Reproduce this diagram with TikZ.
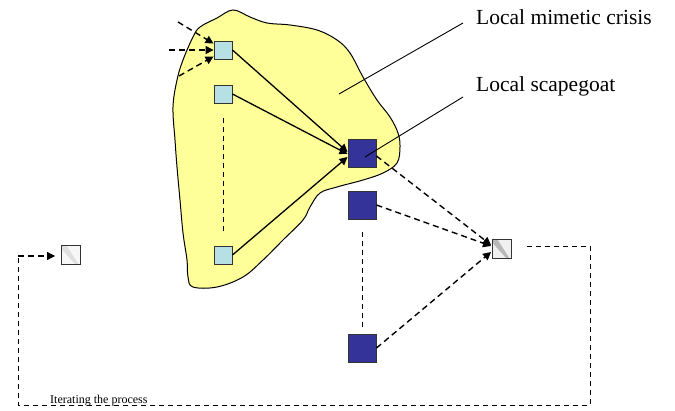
\documentclass[tikz,border=0pt]{standalone}
\usepackage{fontspec}
\setmainfont{Liberation Serif}
\usetikzlibrary{arrows.meta}
\definecolor{blobyellow}{HTML}{FFFF99}
\definecolor{lightsq}{HTML}{B7E0E4}
\definecolor{darksq}{HTML}{333399}
\definecolor{edgegray}{HTML}{333333}
\tikzset{
  lb/.style={draw=edgegray,line width=0.9pt,fill=lightsq,minimum size=18pt,inner sep=0pt},
  db/.style={draw=edgegray,line width=0.9pt,fill=darksq,minimum size=28pt,inner sep=0pt},
  hb/.style={draw=edgegray,line width=0.9pt,fill=gray!12,minimum size=19pt,inner sep=0pt},
  tip/.style={-{Triangle[length=8pt,width=8pt]}},
  solidarr/.style={tip,line width=1.3pt},
  dasharr/.style={tip,line width=1.4pt,dash pattern=on 6pt off 4pt},
  thindash/.style={line width=0.9pt,dash pattern=on 5pt off 4pt},
  lbl/.style={inner sep=0pt,anchor=base west,font=\fontsize{21.5}{24}\selectfont},
}
\begin{document}
\begin{tikzpicture}[x=1pt,y=-1pt]
\useasboundingbox (0,0) rectangle (675,410);
% blob
\draw[fill=blobyellow,line width=1pt] plot[smooth cycle,tension=0.6] coordinates {
(233,10) (250,17) (267,23) (290,25) (317,30) (337,40) (350,53) (363,77)
(377,100) (390,117) (398,133) (400,147) (397,163) (383,173) (363,180)
(337,187) (320,193) (310,207) (303,220) (283,240) (263,260) (243,277)
(217,287) (193,287) (188,277) (187,260) (183,233) (180,200) (177,167)
(175,140) (173,107) (177,80) (183,60) (193,37) (200,27) (217,18)};
% nodes
\node[lb] (a1) at (223,50) {};
\node[lb] (a2) at (223,94) {};
\node[lb] (a3) at (223,255) {};
\node[db] (sg) at (362,153) {};
\node[db] (b2) at (362,205) {};
\node[db] (b3) at (362,348) {};
\node[hb,path picture={\fill[gray!55] ([xshift=-3pt]path picture bounding box.north west) -- ([xshift=5pt]path picture bounding box.north west) -- ([yshift=-3pt]path picture bounding box.south east) -- ([xshift=-5pt]path picture bounding box.south east) -- cycle;}] (h) at (502,249) {};
\node[hb,fill=gray!6,path picture={\fill[gray!25] ([xshift=-3pt]path picture bounding box.north west) -- ([xshift=5pt]path picture bounding box.north west) -- ([yshift=-3pt]path picture bounding box.south east) -- ([xshift=-5pt]path picture bounding box.south east) -- cycle;}] (hl) at (71,255) {};
% incoming dashed arrows
\coordinate (i1) at (178,22);
\coordinate (i2) at (169,50);
\coordinate (i3) at (179,76);
\draw[dasharr] (i1) -- ([yshift=-3pt]a1.north west);
\draw[dasharr] (i2) -- (a1.west);
\draw[dasharr] (i3) -- ([yshift=3pt]a1.south west);
% solid arrows to scapegoat
\draw[solidarr] (a1.east) -- ([yshift=1pt]sg.west);
\draw[solidarr] (a2.east) -- ([yshift=-1pt]sg.west);
\draw[solidarr] (a3.east) -- ([yshift=-4pt]sg.west);
% vertical dashed
\draw[thindash] ([yshift=-15pt]a2.south) -- ([yshift=11pt]a3.north);
\draw[thindash] ([yshift=-13pt]b2.south) -- ([yshift=7pt]b3.north);
% dashed arrows to hatched
\draw[dasharr] ([yshift=-3pt]sg.east) -- ([yshift=4pt,xshift=-1pt]h.west);
\draw[dasharr] (b2.east) -- ([yshift=3pt,xshift=-1pt]h.west);
\draw[dasharr] (b3.east) -- ([yshift=-3pt,xshift=-1pt]h.west);
% loop
\coordinate (r1) at (590,246);
\coordinate (r2) at (590,405);
\coordinate (l1) at (18,405);
\coordinate (l2) at (18,256);
\draw[thindash] ([xshift=15pt,yshift=3pt]h.east) -- (r1) -- (r2) -- (l1) -- (l2);
\draw[dasharr,line width=1.1pt] (l2) -- ([xshift=-6pt,yshift=-1pt]hl.west);
\node[inner sep=0pt,anchor=base west,font=\fontsize{12}{14}\selectfont] (it) at (50,403) {Iterating the process};
% labels
\node[lbl] (lm) at (476,24) {Local mimetic crisis};
\node[lbl] (ls) at (476,91) {Local scapegoat};
\coordinate (lmend) at (339,94);
\draw[line width=0.9pt] ([xshift=-13pt,yshift=1pt]lm.base west) -- (lmend);
\draw[line width=0.9pt] ([xshift=-13pt,yshift=-6pt]ls.base west) -- ([xshift=3pt,yshift=-4pt]sg.center);
\end{tikzpicture}
\end{document}
